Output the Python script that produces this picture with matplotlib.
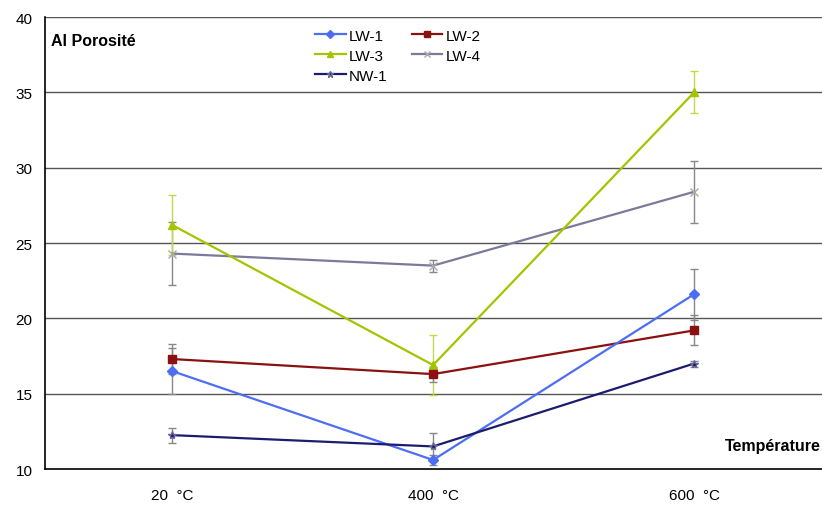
import matplotlib
matplotlib.use("Agg")
import matplotlib.pyplot as plt
from matplotlib.lines import Line2D

plt.rcParams['font.family'] = ['Liberation Sans', 'DejaVu Sans']

categories = ["20  °C", "400  °C", "600  °C"]

lw1 = [16.5, 10.6, 21.6]
lw1_err = [1.5, 0.3, 1.7]
lw2 = [17.3, 16.3, 19.2]
lw2_err = [1.0, 0.5, 1.0]
lw3 = [26.2, 16.9, 35.0]
lw3_err = [2.0, 2.0, 1.4]
lw4 = [24.3, 23.5, 28.4]
lw4_err = [2.1, 0.4, 2.05]
nw1 = [12.25, 11.5, 17.0]
nw1_err = [0.5, 0.9, 0.2]

x = list(range(len(categories)))

fig = plt.figure(figsize=(8.22, 5.06), dpi=100)
ax = fig.add_axes([0.0547, 0.0711, 0.9453, 0.8933])

ax.set_ylim(10, 40)
ax.set_xlim(-0.487, 2.49)
ax.set_yticks([10, 15, 20, 25, 30, 35, 40])
ax.set_xticks(x)
ax.set_xticklabels(categories)
ax.tick_params(axis='both', length=0, labelsize=11)
ax.tick_params(axis='x', pad=14)
ax.tick_params(axis='y', pad=9)
for y in [15, 20, 25, 30, 35, 40]:
    ax.axhline(y, color='#555555', lw=1.0, zorder=0)
ax.spines['right'].set_visible(False)
ax.spines['top'].set_visible(False)
ax.spines['left'].set_linewidth(1.2)
ax.spines['bottom'].set_linewidth(1.2)

ekw = dict(ecolor='#888888', elinewidth=1.0, capsize=3, capthick=1.0)

series = [
    ('LW-4', lw4, lw4_err, '#7a7a9a', 'x', 6, '#aaaaaa', '#888888'),
    ('LW-3', lw3, lw3_err, '#a4c400', '^', 6, '#a4c400', '#c6d84a'),
    ('LW-2', lw2, lw2_err, '#8b1010', 's', 6, '#8b1010', '#888888'),
    ('LW-1', lw1, lw1_err, '#4e6ef2', 'D', 5, '#4e6ef2', '#888888'),
    ('NW-1', nw1, nw1_err, '#1c1c6e', '*', 6, '#666699', '#888888'),
]
handles = {}
for name, vals, err, col, mk, ms, mec, ecol in series:
    ax.errorbar(x, vals, yerr=err, color=col, marker=mk, ms=ms, mec=mec,
                lw=1.6, ecolor=ecol, elinewidth=1.0, capsize=3, capthick=1.0)
    handles[name] = Line2D([], [], color=col, marker=mk, ms=ms - 1, mec=mec, lw=1.6)

order = ['LW-1', 'LW-3', 'NW-1', 'LW-2', 'LW-4']
ax.legend([handles[o] for o in order], order, ncol=2, loc='upper left',
          bbox_to_anchor=(0.33, 1.005), frameon=False, fontsize=11,
          handlelength=2.0, handletextpad=0.2, columnspacing=1.6, labelspacing=0.4)

ax.text(0.008, 0.965, 'Al Porosité', transform=ax.transAxes, fontsize=11.5,
        fontweight='bold', va='top', ha='left')
ax.text(0.998, 0.035, 'Température', transform=ax.transAxes, fontsize=11.5,
        fontweight='bold', va='bottom', ha='right')

fig.savefig("out.png", dpi=100)
